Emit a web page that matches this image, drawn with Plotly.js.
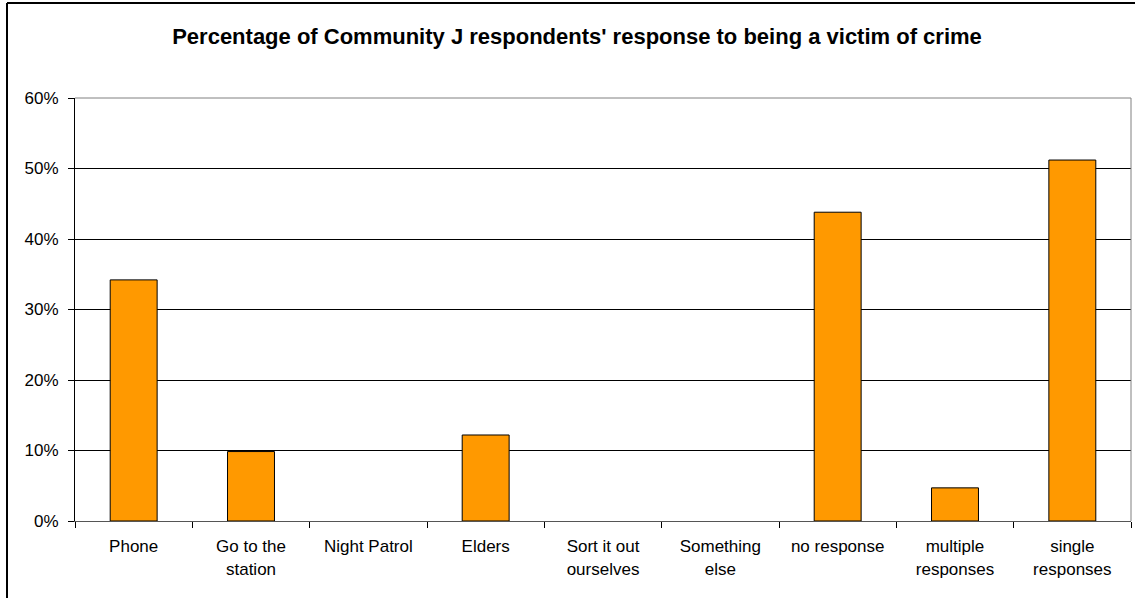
<!DOCTYPE html>
<html>
<head>
<meta charset="utf-8">
<script src="https://cdn.plot.ly/plotly-3.0.1.min.js"></script>
<style>
html,body{margin:0;padding:0;background:#fff;}
#chart{width:1135px;height:598px;}
</style>
</head>
<body>
<div id="chart"></div>
<script>
const categories = ["Phone", "Go to the<br>station", "Night Patrol", "Elders", "Sort it out<br>ourselves", "Something<br>else", "no response", "multiple<br>responses", "single<br>responses"];
const values = [34.2, 9.85, 0, 12.2, 0, 0, 43.8, 4.7, 51.2];
const yTickVals = [0, 10, 20, 30, 40, 50, 60];
const yTickText = ["0%", "10%", "20%", "30%", "40%", "50%", "60%"];
const titleText = "Percentage of Community J respondents' response to being a victim of crime";

const W = 1135, H = 598;
const L = 75, R = 4, T = 98, B = 77;
const pw = W - L - R, ph = H - T - B;
function px(x){ return (x - L) / pw; }
function py(y){ return (H - B - y) / ph; }

const trace = {
  type: "bar",
  x: categories,
  y: values,
  marker: {
    color: "#FF9900",
    line: {color: "#000000", width: values.map(v => v > 0 ? 1 : 0)}
  },
  hoverinfo: "skip"
};

const font = {family: "Liberation Sans, Arial, sans-serif", size: 17, color: "#000"};

const layout = {
  width: W, height: H,
  margin: {l: L, r: R, t: T, b: B, pad: 0},
  paper_bgcolor: "#fff",
  plot_bgcolor: "#fff",
  showlegend: false,
  bargap: 0.6,
  font: font,
  title: {
    text: "<b>" + titleText + "</b>",
    font: {family: "Liberation Sans, Arial, sans-serif", size: 22, color: "#000"},
    x: 577 / W, xref: "container", xanchor: "center",
    y: 1 - 36 / H, yref: "container", yanchor: "middle"
  },
  xaxis: {
    type: "category",
    tickson: "boundaries",
    ticks: "outside",
    ticklen: 6,
    tickcolor: "#000",
    showline: true,
    linecolor: "#555",
    linewidth: 1,
    showgrid: false,
    zeroline: false,
    tickfont: font,
    ticklabelstandoff: 10,
    fixedrange: true
  },
  yaxis: {
    range: [0, 60],
    tickvals: yTickVals,
    ticktext: yTickText,
    ticks: "outside",
    ticklen: 6,
    tickcolor: "#000",
    showline: true,
    linecolor: "#000",
    linewidth: 1,
    showgrid: true,
    gridcolor: "#000",
    gridwidth: 1,
    zeroline: false,
    tickfont: font,
    ticklabelstandoff: 6,
    fixedrange: true
  },
  shapes: [
    {type: "line", xref: "paper", yref: "paper", x0: 0, x1: 1, y0: 1, y1: 1, line: {color: "#808080", width: 1}},
    {type: "line", xref: "paper", yref: "paper", x0: 1, x1: 1, y0: 0, y1: 1, line: {color: "#808080", width: 1}},
    {type: "line", xref: "paper", yref: "paper", x0: px(7), x1: px(7), y0: py(3), y1: py(600), line: {color: "#000", width: 2}},
    {type: "line", xref: "paper", yref: "paper", x0: px(7), x1: px(1140), y0: py(3), y1: py(3), line: {color: "#000", width: 2}}
  ]
};

Plotly.newPlot("chart", [trace], layout, {displayModeBar: false, staticPlot: true});
</script>
</body>
</html>
